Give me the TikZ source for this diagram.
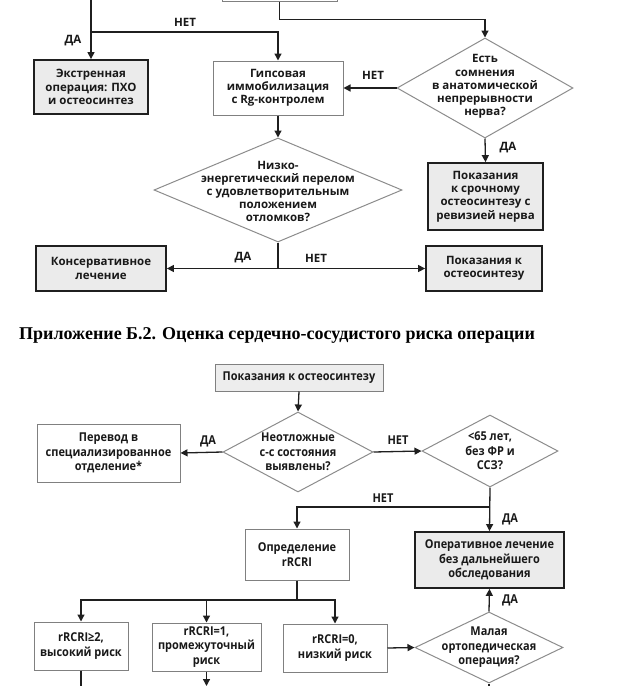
\documentclass[tikz,border=0pt]{standalone}
\usepackage{fontspec}
\setmainfont{Open Sans}
\newfontfamily\condfont{Open Sans}[FakeStretch=0.9]
\newfontfamily\titlefont{Liberation Serif}
\usetikzlibrary{shapes.geometric,arrows.meta}
\begin{document}
\begin{tikzpicture}[x=1pt,y=-1pt,
  base/.style={font=\fontsize{11.5}{13.2}\selectfont\bfseries, align=center, text=black!90, inner sep=1pt},
  cbase/.style={font=\condfont\fontsize{12.2}{14.5}\selectfont\bfseries, align=center, text=black!90, inner sep=1pt},
  thickbox/.style={draw=black!88, line width=1.8pt, fill=black!8},
  thinbox/.style={draw=black!50, line width=1pt, fill=white},
  lightbox/.style={draw=black!50, line width=1pt, fill=black!7},
  dia/.style={diamond, draw=black!45, line width=1pt, inner sep=0pt, fill=white},
  conn/.style={draw=black!88, line width=1.3pt},
  arr/.style={conn, -{Triangle[length=7pt,width=7pt]}},
  lbl/.style={font=\fontsize{11.5}{12}\selectfont\bfseries, text=black!90, inner sep=0pt},
  clbl/.style={font=\condfont\fontsize{12.2}{13}\selectfont\bfseries, text=black!90, inner sep=0pt}]
\useasboundingbox (0,0) rectangle (624,686);
\clip (0,0) rectangle (624,686);
% ---------- upper flowchart ----------
\node[thinbox, minimum width=115pt, minimum height=44pt] (top) at (279.5,-21) {};
\node[thickbox, base, minimum width=114pt, minimum height=54pt] (ekstr) at (91,87) {Экстренная\\операция: ПХО\\и остеосинтез};
\node[thinbox, base, minimum width=130pt, minimum height=54pt] (gips) at (278,88) {Гипсовая\\иммобилизация\\с Rg-контролем};
\node[dia, minimum width=176pt, minimum height=100pt] (d1) at (485,88) {};
\node[base] at (485,86.5) {Есть\\сомнения\\в анатомической\\непрерывности\\нерва?};
\node[thickbox, base, minimum width=115pt, minimum height=67pt] (pok1) at (485.5,196.5) {Показания\\к срочному\\остеосинтезу с\\ревизией нерва};
\node[dia, minimum width=248pt, minimum height=104pt] (d2) at (278,190) {};
\node[base] at (278,191.5) {Низко-\\энергетический перелом\\с удовлетворительным\\положением\\отломков?};
\node[thickbox, base, minimum width=130pt, minimum height=45pt] (kons) at (101,268.5) {Консервативное\\лечение};
\node[thickbox, base, minimum width=116pt, minimum height=45pt] (pok2) at (484,268.5) {Показания к\\остеосинтезу};
\coordinate (tl) at (91,-5);
\coordinate (j1) at (91,32);
\draw[arr] (top.south) -- ++(0,18) -| (d1.north);
\draw[arr] (tl) -- (ekstr.north);
\draw[arr] (j1) -| (gips.north);
\draw[arr] (d1.west) -- (gips.east);
\draw[arr] (d1.south) -- (pok1.north);
\draw[arr] (gips.south) -- (d2.north);
\draw[arr] (d2.south) |- (kons.east);
\draw[arr] (d2.south) |- (pok2.west);
\node[lbl] (l1) at (185,22) {НЕТ};
\node[lbl] (l2) at (73,41) {ДА};
\node[lbl] (l3) at (373,75) {НЕТ};
\node[lbl] (l4) at (508,148) {ДА};
\node[lbl] (l5) at (243,258) {ДА};
\node[lbl] (l6) at (316,258) {НЕТ};
% ---------- title ----------
\node[anchor=base west, inner sep=0pt, font=\titlefont\fontsize{18}{20}\selectfont\bfseries] (title) at (19,339) {Приложение Б.2. Оценка сердечно-сосудистого риска операции};
% ---------- lower flowchart ----------
\node[lightbox, cbase, minimum width=168pt, minimum height=27pt] (pk3) at (299,377.5) {Показания к остеосинтезу};
\node[dia, minimum width=150pt, minimum height=80pt] (d3) at (298,452) {};
\node[cbase] at (298,452) {Неотложные\\с-с состояния\\выявлены?};
\node[thinbox, cbase, minimum width=143pt, minimum height=58pt] (perev) at (108.5,453) {Перевод в\\специализированное\\отделение*};
\node[dia, minimum width=136pt, minimum height=72pt] (d4) at (490,451) {};
\node[cbase] at (490,451) {<65 лет,\\без ФР и\\ССЗ?};
\node[thickbox, cbase, minimum width=149pt, minimum height=56pt] (oper) at (489.5,560) {Оперативное лечение\\без дальнейшего\\обследования};
\node[thinbox, cbase, minimum width=104pt, minimum height=51pt] (opred) at (297,554.5) {Определение\\rRCRI};
\node[thinbox, cbase, minimum width=94pt, minimum height=48pt] (r2) at (81,646) {rRCRI≥2,\\высокий риск};
\node[thinbox, cbase, minimum width=109pt, minimum height=48pt] (r1) at (206.5,647) {rRCRI=1,\\промежуточный\\риск};
\node[thinbox, cbase, minimum width=104pt, minimum height=48pt] (r0) at (335,648) {rRCRI=0,\\низкий риск};
\node[dia, minimum width=148pt, minimum height=71pt] (d5) at (489,647.5) {};
\node[cbase] at (489,647.5) {Малая\\ортопедическая\\операция?};
\coordinate (j2) at (490,507);
\coordinate (j3) at (297,600);
\coordinate (b1) at (81,700);
\coordinate (b2) at (206.5,686);
\coordinate (b3) at (489,700);
\draw[arr] (pk3.south) -- (d3.north);
\draw[arr] (d3.west) -- (perev.east);
\draw[arr] (d3.east) -- (d4.west);
\draw[arr] (d4.south) -- (oper.north);
\draw[arr] (j2) -| (opred.north);
\draw[conn] (opred.south) -- (j3);
\draw[arr] (j3) -| (r2.north);
\draw[arr] (j3) -| (r1.north);
\draw[arr] (j3) -| (r0.north);
\draw[arr] (r0.east) -- (d5.west);
\draw[arr] (d5.north) -- (oper.south);
\draw[conn] (r2.south) -- (b1);
\draw[arr] (r1.south) -- (b2);
\draw[conn] (d5.south) -- (b3);
\node[clbl] (m1) at (208,441) {ДА};
\node[clbl] (m2) at (398,440) {НЕТ};
\node[clbl] (m3) at (383,498) {НЕТ};
\node[clbl] (m4) at (510,519) {ДА};
\node[clbl] (m5) at (510,600) {ДА};
\end{tikzpicture}
\end{document}
